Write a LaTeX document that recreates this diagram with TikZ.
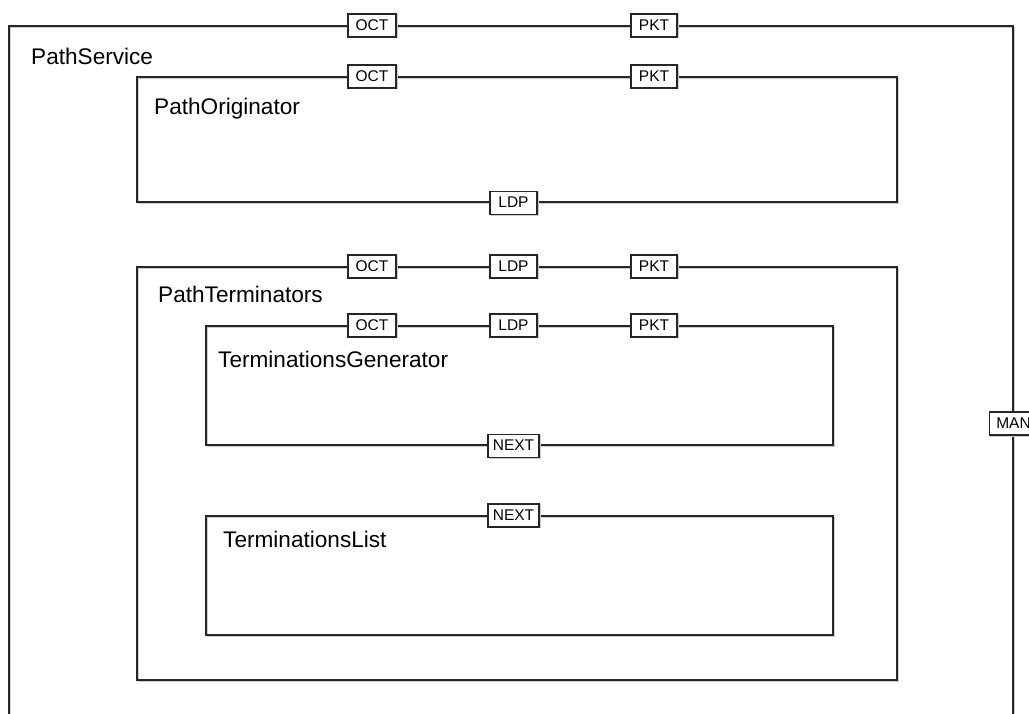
\documentclass[tikz,border=0pt]{standalone}
\usepackage{fontspec}
\setmainfont{Liberation Sans}
\begin{document}
\begin{tikzpicture}[x=1pt,y=-1pt,
  box/.style={draw=black!85, line width=1.1pt, rectangle, inner sep=0pt,
    preaction={draw=gray!40, line width=1pt, transform canvas={shift={(1pt,-1pt)}}}},
  port/.style={box, fill=white, font=\fontsize{15.5}{15.5}\selectfont, minimum height=23pt, minimum width=47pt, inner sep=0pt},
  title/.style={anchor=base west, inner sep=0pt, font=\fontsize{22.6}{22.6}\selectfont}]
\useasboundingbox (0,0) rectangle (1029,713);
% containers
\node[box, minimum width=1004pt, minimum height=714pt] (ps) at (511,383) {};
\node[box, minimum width=760pt, minimum height=125pt] (po) at (517,139.5) {};
\node[box, minimum width=760pt, minimum height=413pt] (pt) at (517,473.5) {};
\node[box, minimum width=627pt, minimum height=119pt] (tg) at (519.5,385.5) {};
\node[box, minimum width=627pt, minimum height=119pt] (tl) at (519.5,575.5) {};
% titles
\node[title] (psl) at (31,64) {PathService};
\node[title] (pol) at (154,114.3) {PathOriginator};
\node[title] (ptl) at (158,302.3) {PathTerminators};
\node[title] (tgl) at (218,367.3) {TerminationsGenerator};
\node[title] (tll) at (223,547.3) {TerminationsList};
% ports
\node[port, minimum width=48pt] (ps-oct) at (372,0 |- ps.north) {OCT};
\node[port, minimum width=46pt] (ps-pkt) at (654,0 |- ps.north) {PKT};
\node[port, minimum width=48pt] (ps-man) at (ps.east |- 0,423.5) {MAN};
\node[port, minimum width=48pt] (po-oct) at (372,0 |- po.north) {OCT};
\node[port, minimum width=46pt] (po-pkt) at (654,0 |- po.north) {PKT};
\node[port] (po-ldp) at (513.5,0 |- po.south) {LDP};
\node[port, minimum width=48pt] (pt-oct) at (372,0 |- pt.north) {OCT};
\node[port] (pt-ldp) at (513.5,0 |- pt.north) {LDP};
\node[port, minimum width=46pt] (pt-pkt) at (654,0 |- pt.north) {PKT};
\node[port, minimum width=48pt] (tg-oct) at (372,0 |- tg.north) {OCT};
\node[port] (tg-ldp) at (513.5,0 |- tg.north) {LDP};
\node[port, minimum width=46pt] (tg-pkt) at (654,0 |- tg.north) {PKT};
\node[port, minimum width=51pt] (tg-next) at (513.5,0 |- tg.south) {NEXT};
\node[port, minimum width=51pt] (tl-next) at (513.5,0 |- tl.north) {NEXT};
\end{tikzpicture}
\end{document}
